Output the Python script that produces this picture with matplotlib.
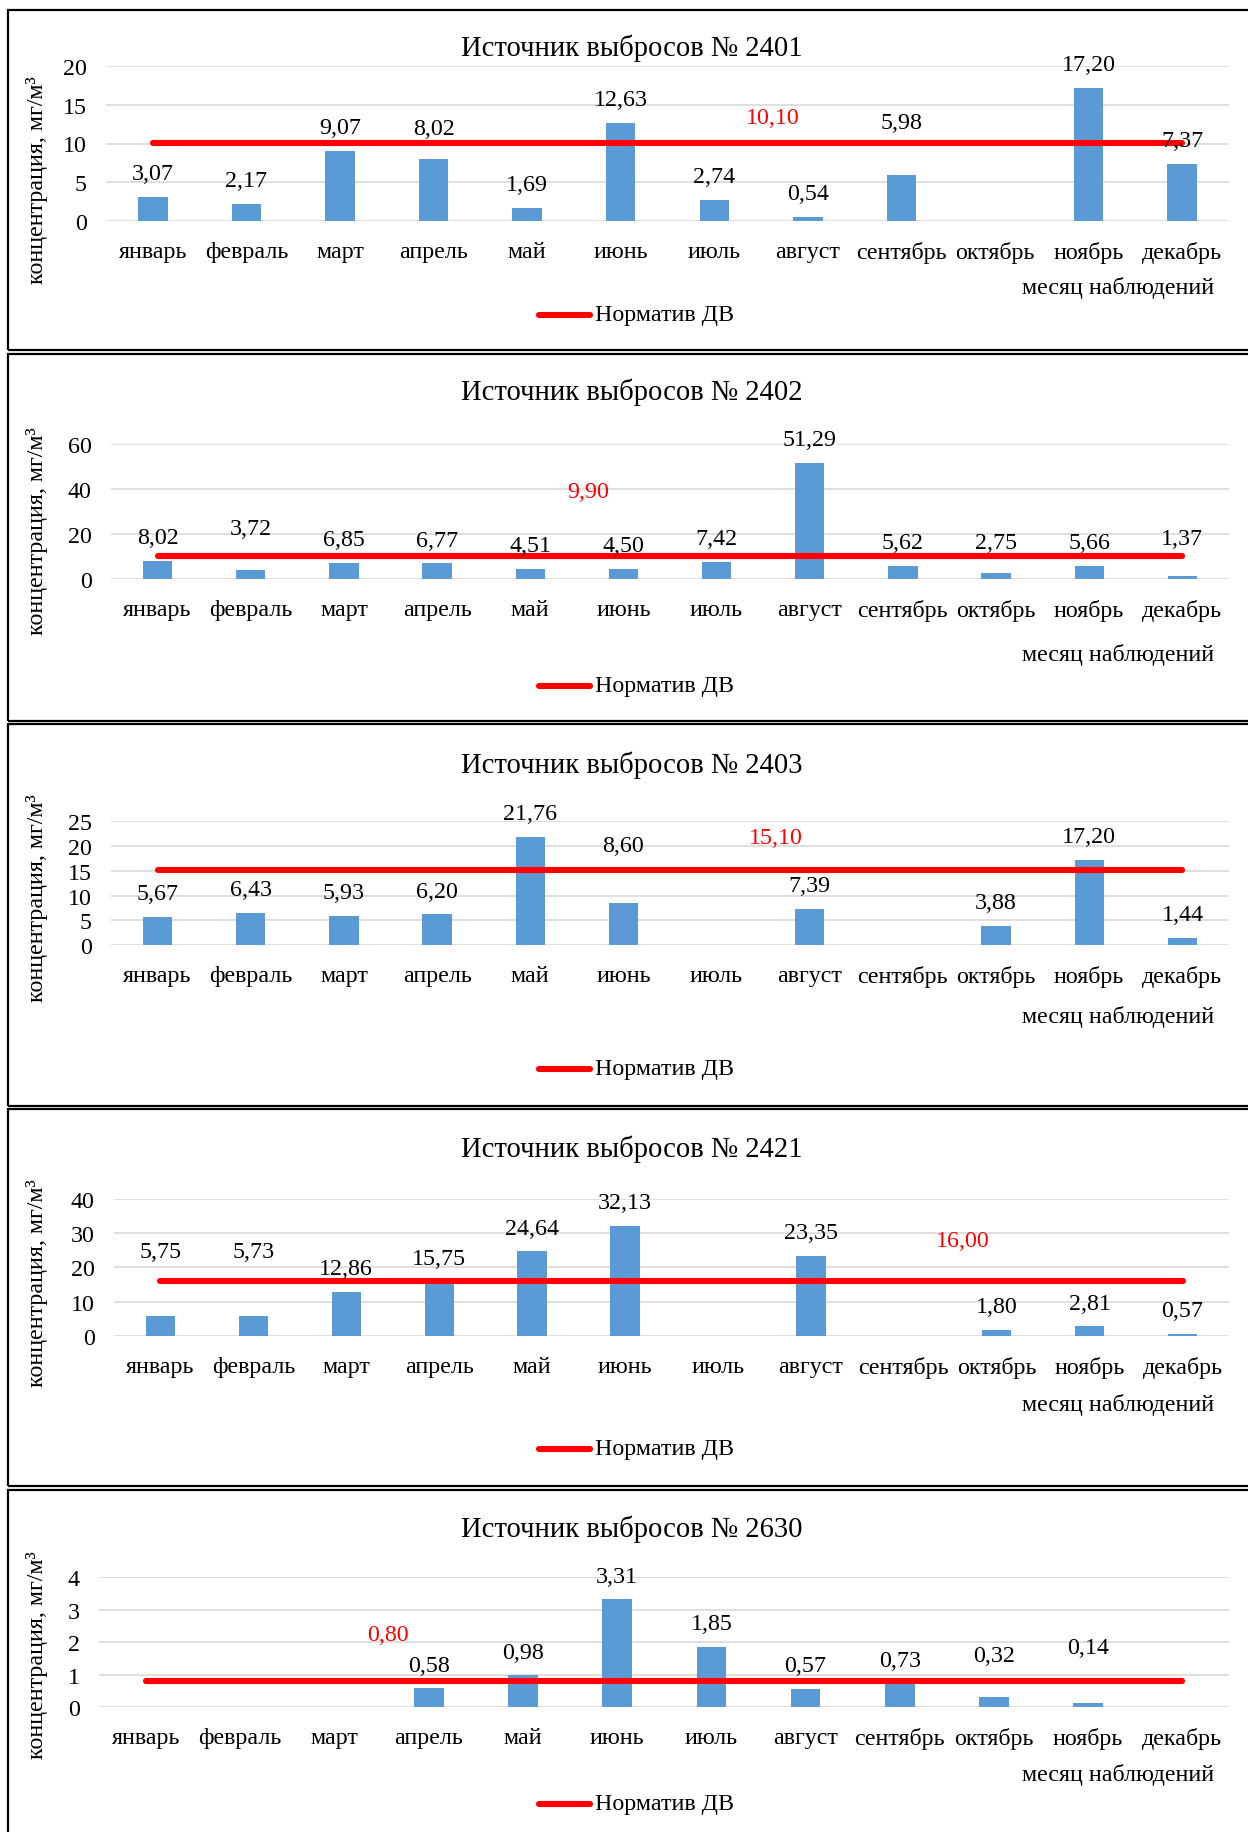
import numpy as np
import matplotlib
matplotlib.use("Agg")
import matplotlib.pyplot as plt
from matplotlib.lines import Line2D
from matplotlib.patches import Rectangle

plt.rcParams['font.family'] = ['Liberation Serif', 'DejaVu Serif']

months = ['январь', 'февраль', 'март', 'апрель', 'май', 'июнь', 'июль',
          'август', 'сентябрь', 'октябрь', 'ноябрь', 'декабрь']
nan = np.nan
sources = ['2401', '2402', '2403', '2421', '2630']
vals_2401 = [3.07, 2.17, 9.07, 8.02, 1.69, 12.63, 2.74, 0.54, 5.98, nan, 17.20, 7.37]
vals_2402 = [8.02, 3.72, 6.85, 6.77, 4.51, 4.50, 7.42, 51.29, 5.62, 2.75, 5.66, 1.37]
vals_2403 = [5.67, 6.43, 5.93, 6.20, 21.76, 8.60, nan, 7.39, nan, 3.88, 17.20, 1.44]
vals_2421 = [5.75, 5.73, 12.86, 15.75, 24.64, 32.13, nan, 23.35, nan, 1.80, 2.81, 0.57]
vals_2630 = [nan, nan, nan, 0.58, 0.98, 3.31, 1.85, 0.57, 0.73, 0.32, 0.14, nan]
all_vals = [vals_2401, vals_2402, vals_2403, vals_2421, vals_2630]
norms = [10.10, 9.90, 15.10, 16.00, 0.80]
y_max = [20, 60, 25, 40, 4]
y_step = [5, 20, 5, 10, 1]

# layout, pixels of the 1248x1833 figure
W, H = 1248, 1833
ax_box = [(106, 67.3, 1229, 221.7), (111, 444.7, 1229, 579.7), (111, 822, 1229, 946.3),
          (114, 1199.7, 1229, 1337), (99, 1578, 1229.5, 1708.3)]
panel_box = [(10.7, 351), (354.5, 721.5), (725, 1106.5), (1110, 1486.5), (1491, 1845)]
title_y = [48, 392, 765, 1149, 1529]
xname_y = [288, 655, 1017, 1405, 1775]
legend_y = [316, 687, 1070, 1450, 1805]
ylab_y = [180, 531, 898, 1283, 1655]
norm_lab = [(6.62, 13.4), (4.62, 38.7), (6.64, 21.7), (8.63, 27.8), (2.57, 2.25)]
extra_lift = [{3: 7, 8: 29}, {1: 18, 9: 7, 11: 14}, {5: 34}, {0: 41, 1: 41}, {9: 18, 10: 32}]

BAR = '#5B9BD5'
FS = 17.3

fig = plt.figure(figsize=(W / 100, H / 100), dpi=100)

for i, vals in enumerate(all_vals):
    top, bot = panel_box[i]
    fig.patches.append(Rectangle((8 / W, 1 - bot / H), 1.1, (bot - top) / H,
                                 transform=fig.transFigure, fill=False,
                                 edgecolor='black', lw=1.6))
    l, t, r, b = ax_box[i]
    ax = fig.add_axes([l / W, 1 - b / H, (r - l) / W, (b - t) / H])
    x = np.arange(len(months))
    v = np.array(vals, dtype=float)
    ax.bar(x, v, width=0.315, color=BAR, zorder=2)
    ax.plot([x[0], x[-1]], [norms[i], norms[i]], color='#FF0000', lw=4.4,
            solid_capstyle='round', zorder=3)
    for k in range(len(x)):
        if np.isnan(v[k]):
            continue
        lift = 16.8 + extra_lift[i].get(k, 0) * 0.72
        ax.annotate(f'{v[k]:.2f}'.replace('.', ','), (x[k], v[k]),
                    xytext=(0, lift), textcoords='offset points',
                    ha='center', va='center', fontsize=FS, zorder=4)
    nx, ny = norm_lab[i]
    ax.text(nx, ny, f'{norms[i]:.2f}'.replace('.', ','), color='#FF0000',
            ha='center', va='center', fontsize=FS)
    ax.set_xlim(-0.5, 11.5)
    ax.set_ylim(0, y_max[i])
    ax.set_yticks(np.arange(0, y_max[i] + 0.01, y_step[i]))
    ax.set_xticks(x)
    ax.set_xticklabels(months)
    ax.tick_params(axis='x', length=0, pad=14.5, labelsize=FS)
    ax.tick_params(axis='y', length=0, pad=14, labelsize=FS)
    ax.grid(axis='y', color='#D9D9D9', lw=1.2, zorder=0)
    ax.set_axisbelow(True)
    for s in ax.spines.values():
        s.set_visible(False)

    fig.text(632 / W, 1 - title_y[i] / H, f'Источник выбросов № {sources[i]}',
             ha='center', va='center', fontsize=20.6)
    fig.text(1214 / W, 1 - xname_y[i] / H, 'месяц наблюдений',
             ha='right', va='center', fontsize=FS)
    fig.text(37 / W, 1 - ylab_y[i] / H, 'концентрация, мг/м³', rotation=90,
             ha='center', va='center', fontsize=FS)
    ly = 1 - legend_y[i] / H
    fig.lines.append(Line2D([539 / W, 590 / W], [ly, ly], transform=fig.transFigure,
                            color='#FF0000', lw=4.4, solid_capstyle='round'))
    fig.text(595 / W, ly, 'Норматив ДВ', ha='left', va='center', fontsize=FS)

fig.savefig('out.png', dpi=100)
